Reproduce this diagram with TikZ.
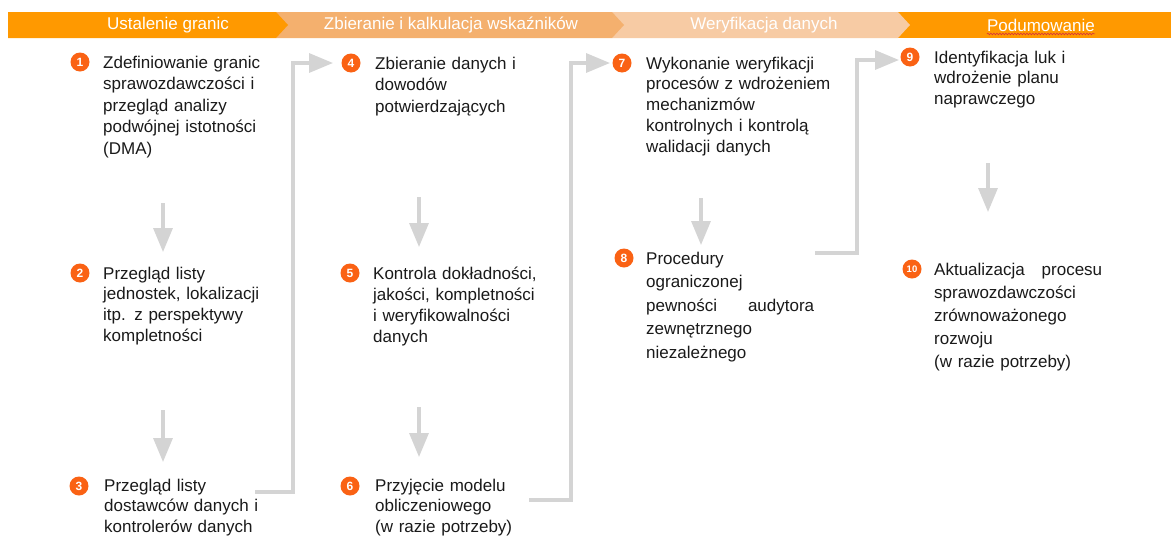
\documentclass[tikz,border=0pt]{standalone}
\usepackage{fontspec}
\setmainfont{Liberation Sans}
\usetikzlibrary{arrows.meta,calc,decorations.pathmorphing}
\definecolor{hdrA}{RGB}{255,153,0}
\definecolor{hdrB}{RGB}{244,176,110}
\definecolor{hdrC}{RGB}{247,203,164}
\definecolor{badgec}{RGB}{250,98,20}
\definecolor{arrowc}{RGB}{212,212,212}
\definecolor{txt}{RGB}{26,26,26}
\definecolor{spellred}{RGB}{215,50,60}
\newcommand{\spreadline}[2]{\leavevmode\hbox to 168pt{#1\hfill #2}}
\begin{document}
\begin{tikzpicture}[x=1pt,y=-1pt,
  badge/.style={circle,fill=badgec,text=white,inner sep=0pt,minimum size=19pt,font=\fontsize{12}{12}\selectfont\bfseries},
  steptext/.style={anchor=base west,inner sep=0pt,text width=200pt,align=left,text=txt,font=\fontsize{17}{21.5}\selectfont},
  hdrtext/.style={text=white,inner sep=0pt,font=\fontsize{17}{17}\selectfont},
  conn/.style={draw=arrowc,line width=3.3pt,-{Triangle[length=24pt,width=19pt]}}
]
\useasboundingbox (0,0) rectangle (1171,536);
\fill[white] (0,0) rectangle (1171,536);

% header band
\fill[hdrA] (898,12) rectangle (1171,38);
\fill[hdrC] (612,12) -- (898,12) -- (910,25) -- (898,38) -- (612,38) -- cycle;
\fill[hdrB] (276,12) -- (612,12) -- (624,25) -- (612,38) -- (276,38) -- cycle;
\fill[hdrA] (8,12) -- (276,12) -- (288,25) -- (276,38) -- (8,38) -- cycle;
\node[hdrtext] (h1) at (168,25) {Ustalenie granic};
\node[hdrtext] (h2) at (451,25) {Zbieranie i kalkulacja wskaźników};
\node[hdrtext] (h3) at (764,25) {Weryfikacja danych};
\node[hdrtext] (h4) at (1041,25) {Podumowanie};
\draw[spellred,line width=0.6pt,decorate,decoration={snake,amplitude=0.8pt,segment length=3pt}]
  ([yshift=-2.5pt]h4.south west) -- ([yshift=-2.5pt]h4.south east);

% badges
\node[badge] (b1) at (80,62) {1};
\node[badge] (b2) at (80,273) {2};
\node[badge] (b3) at (79,486) {3};
\node[badge] (b4) at (351,63) {4};
\node[badge] (b5) at (350,273) {5};
\node[badge] (b6) at (350,486) {6};
\node[badge] (b7) at (622,63) {7};
\node[badge] (b8) at (624,258) {8};
\node[badge] (b9) at (910,57) {9};
\node[badge,font=\fontsize{9.5}{9.5}\selectfont\bfseries] (b10) at (912,269) {10};

% texts
\node[steptext] (t1) at (103,68) {Zdefiniowanie granic\\sprawozdawczości i\\przegląd analizy\\podwójnej istotności\\(DMA)};
\node[steptext,font=\fontsize{17}{20.8}\selectfont] (t2) at (103,279) {Przegląd listy\\jednostek, lokalizacji\\itp. z perspektywy\\kompletności};
\node[steptext,font=\fontsize{17}{20.5}\selectfont] (t3) at (104,491) {Przegląd listy\\dostawców danych i\\kontrolerów danych};
\node[steptext] (t4) at (375,69) {Zbieranie danych i\\dowodów\\potwierdzających};
\node[steptext,font=\fontsize{17}{21}\selectfont] (t5) at (373,279) {Kontrola dokładności,\\jakości, kompletności\\i weryfikowalności\\danych};
\node[steptext,font=\fontsize{17}{20.5}\selectfont] (t6) at (375,491) {Przyjęcie modelu\\obliczeniowego\\(w razie potrzeby)};
\node[steptext,font=\fontsize{17}{20.8}\selectfont] (t7) at (646,69) {Wykonanie weryfikacji\\procesów z wdrożeniem\\mechanizmów\\kontrolnych i kontrolą\\walidacji danych};
\node[steptext,font=\fontsize{17}{23.6}\selectfont] (t8) at (646,264) {Procedury\\ograniczonej\\\spreadline{pewności}{audytora}\\zewnętrznego\\niezależnego};
\node[steptext,font=\fontsize{17}{20.7}\selectfont] (t9) at (934,63) {Identyfikacja luk i\\wdrożenie planu\\naprawczego};
\node[steptext,font=\fontsize{17}{23.2}\selectfont] (t10) at (934,275) {\spreadline{Aktualizacja}{procesu}\\sprawozdawczości\\zrównoważonego\\rozwoju\\(w razie potrzeby)};

% vertical arrows
\coordinate (d1s) at (163,203); \coordinate (d1e) at (163,252);
\coordinate (d2s) at (163,410); \coordinate (d2e) at (163,462);
\coordinate (d3s) at (419,197); \coordinate (d3e) at (419,247);
\coordinate (d4s) at (419,407); \coordinate (d4e) at (419,457);
\coordinate (d5s) at (701,198); \coordinate (d5e) at (701,245);
\coordinate (d6s) at (988,163); \coordinate (d6e) at (988,212);
\draw[conn] (d1s) -- (d1e);
\draw[conn] (d2s) -- (d2e);
\draw[conn] (d3s) -- (d3e);
\draw[conn] (d4s) -- (d4e);
\draw[conn] (d5s) -- (d5e);
\draw[conn] (d6s) -- (d6e);

% elbow connectors
\coordinate (s3) at (255,492); \coordinate (v34) at (293,300); \coordinate (e4) at (333,63);
\coordinate (s6) at (529,500); \coordinate (v67) at (571,300); \coordinate (e7) at (610,63);
\coordinate (s8) at (815,253); \coordinate (v89) at (857,150); \coordinate (e9) at (899,60);
\draw[conn] (s3) -| (v34) |- (e4);
\draw[conn] (s6) -| (v67) |- (e7);
\draw[conn] (s8) -| (v89) |- (e9);
\end{tikzpicture}
\end{document}
